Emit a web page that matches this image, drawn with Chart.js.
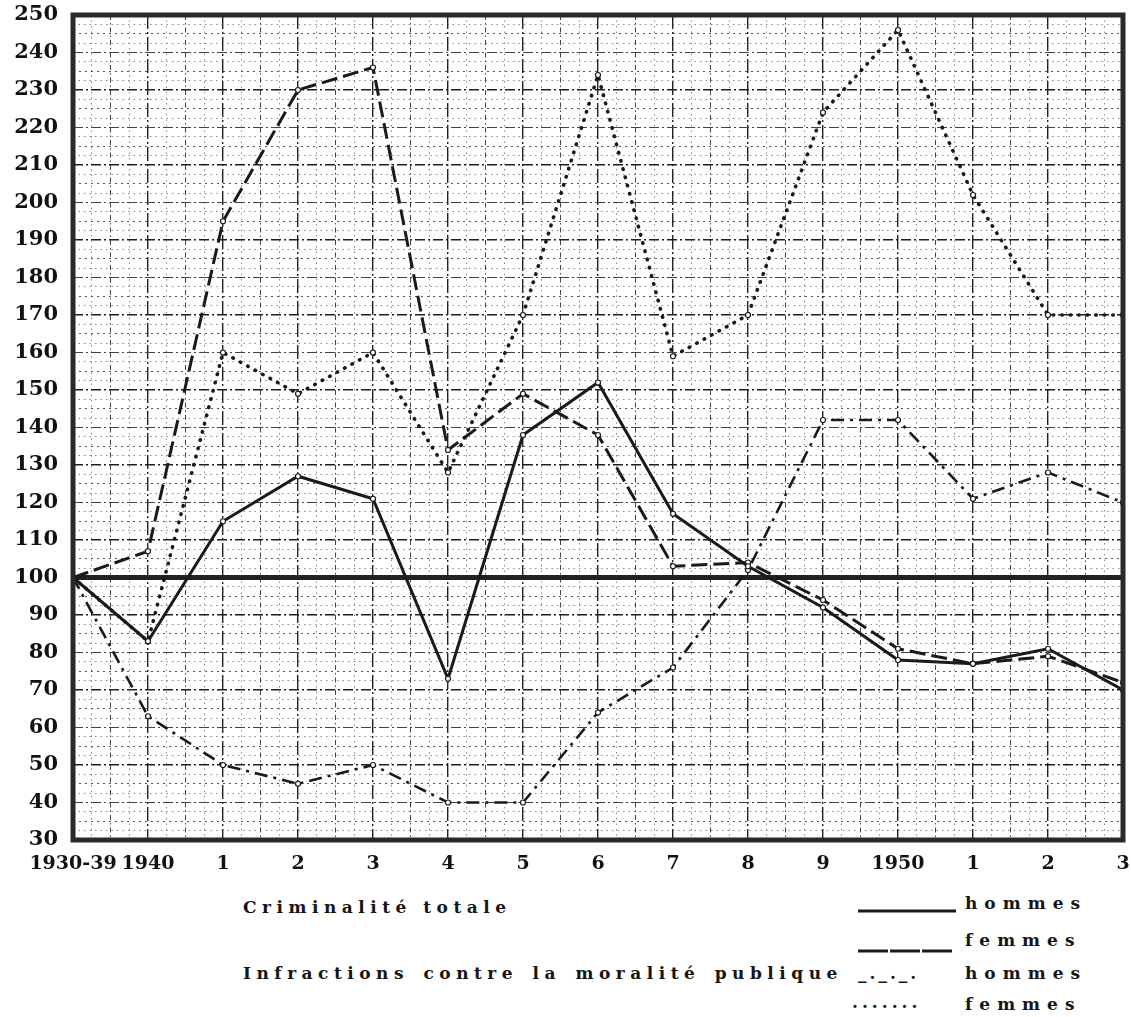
<!DOCTYPE html>
<html>
<head>
<meta charset="utf-8">
<script src="https://cdn.jsdelivr.net/npm/chart.js@4"></script>
<style>
  html, body { margin: 0; padding: 0; background: #fff; }
  #wrap { position: relative; width: 1131px; height: 1017px; overflow: hidden; }
  #c { position: absolute; left: 0; top: 0; }
  .lg { position: absolute; font-family: "DejaVu Serif", serif; font-weight: bold; color: #151515;
        font-size: 17px; line-height: 20px; height: 20px; white-space: nowrap; letter-spacing: 5.5px; }
  .lk { letter-spacing: 7px; font-size: 17px; }
  svg.ln { position: absolute; }
</style>
</head>
<body>
<div id="wrap">
  <canvas id="c" width="1131" height="892"></canvas>
  <div class="lg" style="left:243px; top:897px;">Criminalité totale</div>
  <div class="lg" style="left:243px; top:963px; word-spacing:3px;">Infractions contre la moralité publique</div>
  <svg class="ln" style="left:856px; top:906px;" width="102" height="10"><line x1="2" y1="5" x2="100" y2="5" stroke="#1a1a1a" stroke-width="3"/></svg>
  <svg class="ln" style="left:856px; top:946px;" width="102" height="10"><line x1="2" y1="5" x2="98" y2="5" stroke="#1a1a1a" stroke-width="3" stroke-dasharray="30 2"/></svg>
  <div class="lg" style="left:858px; top:963px; letter-spacing:3px;">_._._.</div>
  <div class="lg" style="left:852px; top:992px; letter-spacing:4px;">.......</div>
  <div class="lg lk" style="left:965px; top:893px;">hommes</div>
  <div class="lg lk" style="left:965px; top:930px;">femmes</div>
  <div class="lg lk" style="left:965px; top:963px;">hommes</div>
  <div class="lg lk" style="left:965px; top:994px;">femmes</div>
</div>
<script>
// ---- data ----
const categories   = ['1930-39','1940','1','2','3','4','5','6','7','8','9','1950','1','2','3'];
const crimHommes   = [100, 83, 115, 127, 121, 73, 138, 152, 117, 103, 92, 78, 77, 81, 70];
const crimFemmes   = [100, 107, 195, 230, 236, 134, 149, 138, 103, 104, 94, 81, 77, 79, 72];
const moralHommes  = [100, 63, 50, 45, 50, 40, 40, 64, 76, 102, 142, 142, 121, 128, 120];
const moralFemmes  = [100, 83, 160, 149, 160, 128, 170, 234, 159, 170, 224, 246, 202, 170, 170];
const yMin = 30, yMax = 250, yStep = 10;
const baseValue = 100;

const toXY = arr => arr.map((v, i) => ({ x: i, y: v }));
const INK = '#1a1a1a';

const framePlugin = {
  id: 'frame',
  beforeDatasetsDraw(chart) {
    const { ctx, chartArea: a, scales } = chart;
    const yb = scales.y.getPixelForValue(baseValue);
    ctx.save();
    ctx.strokeStyle = '#222';
    ctx.lineWidth = 5;
    ctx.beginPath(); ctx.moveTo(a.left, yb); ctx.lineTo(a.right, yb); ctx.stroke();
    ctx.restore();
  },
  afterDatasetsDraw(chart) {
    const { ctx, chartArea: a } = chart;
    ctx.save();
    ctx.strokeStyle = '#2a2a2a';
    ctx.lineWidth = 5;
    ctx.strokeRect(a.left, a.top, a.right - a.left, a.bottom - a.top);
    ctx.restore();
  }
};

const zeroPad = s => { s.paddingLeft = 0; s.paddingRight = 0; s.paddingTop = 0; s.paddingBottom = 0; };
const tickFont = { family: 'DejaVu Serif', weight: 'bold' };
const gridAxis = (pos, step, color, dash, lw) => ({
  type: 'linear', position: pos,
  min: pos === 'bottom' ? 0 : yMin, max: pos === 'bottom' ? categories.length - 1 : yMax,
  ticks: { display: false, stepSize: step, autoSkip: false },
  grid: { color, lineWidth: lw, drawTicks: false },
  border: { display: false, dash },
  afterFit: s => { if (pos === 'bottom') s.height = 0; else s.width = 0; zeroPad(s); }
});

new Chart(document.getElementById('c'), {
  type: 'line',
  data: {
    datasets: [
      { label: 'Criminalité totale hommes', data: toXY(crimHommes), borderColor: INK, borderWidth: 3,
        pointRadius: 2.5, pointBackgroundColor: '#fff', pointBorderColor: INK, pointBorderWidth: 1.2, tension: 0 },
      { label: 'Criminalité totale femmes', data: toXY(crimFemmes), borderColor: INK, borderWidth: 3, borderDash: [16, 6],
        pointRadius: 2.5, pointBackgroundColor: '#fff', pointBorderColor: INK, pointBorderWidth: 1.2, tension: 0 },
      { label: 'Infractions contre la moralité publique hommes', data: toXY(moralHommes), borderColor: INK, borderWidth: 2.6,
        borderDash: [13, 6, 3, 6], pointRadius: 2.5, pointBackgroundColor: '#fff', pointBorderColor: INK, pointBorderWidth: 1.2, tension: 0 },
      { label: 'Infractions contre la moralité publique femmes', data: toXY(moralFemmes), borderColor: INK, borderWidth: 3.6,
        borderDash: [0.5, 8], borderCapStyle: 'round', pointRadius: 2.5, pointBackgroundColor: '#fff', pointBorderColor: INK,
        pointBorderWidth: 1.2, tension: 0 }
    ]
  },
  options: {
    responsive: false,
    animation: false,
    layout: { autoPadding: false, padding: { top: 15, right: 8, left: 0, bottom: 0 } },
    plugins: { legend: { display: false }, tooltip: { enabled: false } },
    scales: {
      xFine: gridAxis('bottom', 0.25, c => (c.tick && (c.tick.value * 2) % 1 === 0) ? 'rgba(0,0,0,0)' : '#8a8a8a', [1.5, 4], 1),
      yFine: gridAxis('left', 2.5, c => (c.tick && (c.tick.value % 5) === 0) ? 'rgba(0,0,0,0)' : '#8a8a8a', [1.5, 4], 1),
      xMinor: gridAxis('bottom', 0.5, c => (c.tick && Number.isInteger(c.tick.value)) ? 'rgba(0,0,0,0)' : '#444', [5, 3, 1.5, 3], 1),
      yMinor: gridAxis('left', 5, c => (c.tick && (c.tick.value % 10) === 0) ? 'rgba(0,0,0,0)' : '#555', [2, 4], 1),
      x: {
        type: 'linear', position: 'bottom', min: 0, max: categories.length - 1,
        ticks: { stepSize: 1, autoSkip: false, maxRotation: 0, minRotation: 0, padding: 13, color: '#111',
                 font: { ...tickFont, size: 19 }, callback: v => categories[v] !== undefined ? categories[v] : '' },
        grid: { color: '#222', lineWidth: 1.4, drawTicks: false },
        border: { display: false, dash: [14, 3, 2, 3] },
        afterFit: s => { s.height = 52; zeroPad(s); }
      },
      y: {
        type: 'linear', position: 'left', min: yMin, max: yMax,
        ticks: { stepSize: yStep, padding: 15, color: '#111', font: { ...tickFont, size: 21 } },
        grid: { color: c => (c.tick && ((c.tick.value - yMin) % 20) === 0) ? '#1f1f1f' : '#444',
                lineWidth: c => (c.tick && ((c.tick.value - yMin) % 20) === 0) ? 1.6 : 1.1, drawTicks: false },
        border: { display: false, dash: [10, 3, 2, 3] },
        afterFit: s => { s.width = 73; zeroPad(s); }
      }
    }
  },
  plugins: [framePlugin]
});
</script>
</body>
</html>
